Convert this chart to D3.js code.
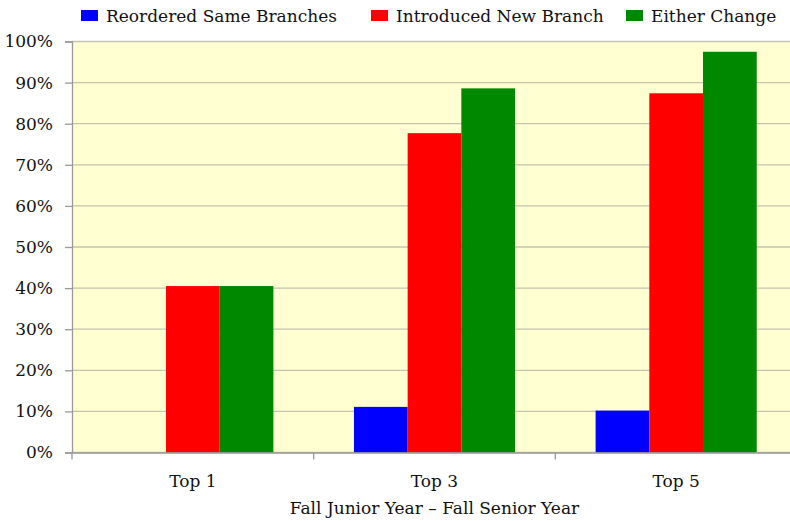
<!DOCTYPE html>
<html>
<head>
<meta charset="utf-8">
<script src="https://cdn.jsdelivr.net/npm/d3@7"></script>
<style>
  body { margin: 0; background: #fff; }
  svg text { font-family: "DejaVu Serif", "Liberation Serif", serif; fill: #111; }
</style>
</head>
<body>
<script>
// chart data
var categories = [ 'Top 1', 'Top 3', 'Top 5' ];
var seriesNames = [ 'Reordered Same Branches', 'Introduced New Branch', 'Either Change' ];
var seriesColors = [ '#0000ff', '#ff0000', '#008800' ];
var reordered = [ 0, 11.1, 10.2 ];
var introduced = [ 40.5, 77.7, 87.4 ];
var either = [ 40.5, 88.6, 97.5 ];
var yTicks = [ 0, 10, 20, 30, 40, 50, 60, 70, 80, 90, 100 ];
var xTitle = 'Fall Junior Year \u2013 Fall Senior Year';

var allSeries = [ reordered, introduced, either ];

var width = 790, height = 521;
// plot box (right edge runs past the window, as in the original)
var plotLeft = 72, plotRight = 797, plotTop = 41.5, plotBottom = 452.5;

var svg = d3.select( 'body' )
    .append( 'svg' )
    .attr( 'width', width )
    .attr( 'height', height );

var x = d3.scaleBand().domain( categories ).range( [ plotLeft, plotRight ] ).paddingInner( 0 ).paddingOuter( 0 );
var xs = d3.scaleBand().domain( d3.range( seriesNames.length ) ).range( [ 0, x.bandwidth() ] )
    .paddingInner( 0 ).paddingOuter( 0.75 );
var y = d3.scaleLinear().domain( [ 0, 100 ] ).range( [ plotBottom, plotTop ] );

// plot background
svg.append( 'rect' )
    .attr( 'x', plotLeft ).attr( 'y', plotTop )
    .attr( 'width', plotRight - plotLeft ).attr( 'height', plotBottom - plotTop )
    .attr( 'fill', '#ffffd2' );

// gridlines
svg.append( 'g' )
    .selectAll( 'line' )
    .data( yTicks )
    .join( 'line' )
    .attr( 'x1', plotLeft ).attr( 'x2', plotRight )
    .attr( 'y1', function ( d ) { return y( d ); } )
    .attr( 'y2', function ( d ) { return y( d ); } )
    .attr( 'stroke', '#c4c4b0' )
    .attr( 'stroke-width', 1.3 );

// bars
var groups = svg.append( 'g' )
    .selectAll( 'g' )
    .data( allSeries )
    .join( 'g' )
    .attr( 'fill', function ( d, i ) { return seriesColors[ i ]; } );

groups.each( function ( vals, si ) {
    d3.select( this ).selectAll( 'rect' )
        .data( vals )
        .join( 'rect' )
        .attr( 'x', function ( d, ci ) { return x( categories[ ci ] ) + xs( si ); } )
        .attr( 'width', xs.bandwidth() )
        .attr( 'y', function ( d ) { return y( d ); } )
        .attr( 'height', function ( d ) { return y( 0 ) - y( d ); } );
} );

// y axis
var yAxis = svg.append( 'g' )
    .attr( 'transform', 'translate(' + plotLeft + ',0)' )
    .call( d3.axisLeft( y ).tickValues( yTicks ).tickSize( 7 ).tickPadding( 12 )
        .tickFormat( function ( d ) { return d + '%'; } ) );
yAxis.select( '.domain' ).attr( 'stroke', '#999' ).attr( 'stroke-width', 1.3 );
yAxis.selectAll( '.tick line' ).attr( 'stroke', '#999' ).attr( 'stroke-width', 1.3 );
yAxis.selectAll( '.tick text' ).attr( 'font-size', 17 ).attr( 'fill', '#111' );

// x axis
var xAxis = svg.append( 'g' )
    .attr( 'transform', 'translate(0,' + plotBottom + ')' )
    .call( d3.axisBottom( x ).tickSize( 0 ).tickPadding( 22 ) );
xAxis.select( '.domain' ).attr( 'stroke', '#999' ).attr( 'stroke-width', 1.3 );
xAxis.selectAll( '.tick text' ).attr( 'font-size', 17 ).attr( 'fill', '#111' );

// x category separators
svg.append( 'g' )
    .selectAll( 'line' )
    .data( categories )
    .join( 'line' )
    .attr( 'x1', function ( d ) { return x( d ); } )
    .attr( 'x2', function ( d ) { return x( d ); } )
    .attr( 'y1', plotBottom ).attr( 'y2', plotBottom + 7 )
    .attr( 'stroke', '#999' ).attr( 'stroke-width', 1.3 );

// x axis title
svg.append( 'text' )
    .attr( 'x', ( plotLeft + plotRight ) / 2 )
    .attr( 'y', 514 )
    .attr( 'text-anchor', 'middle' )
    .attr( 'font-size', 17 )
    .text( xTitle );

// legend
var legendX = [ 81, 371, 626 ];
var legend = svg.append( 'g' )
    .selectAll( 'g' )
    .data( seriesNames )
    .join( 'g' )
    .attr( 'transform', function ( d, i ) { return 'translate(' + legendX[ i ] + ',10)'; } );
legend.append( 'rect' )
    .attr( 'width', 17 ).attr( 'height', 11 )
    .attr( 'fill', function ( d, i ) { return seriesColors[ i ]; } );
legend.append( 'text' )
    .attr( 'x', 25 ).attr( 'y', 12 )
    .attr( 'font-size', 17 )
    .text( function ( d ) { return d; } );
</script>
</body>
</html>
